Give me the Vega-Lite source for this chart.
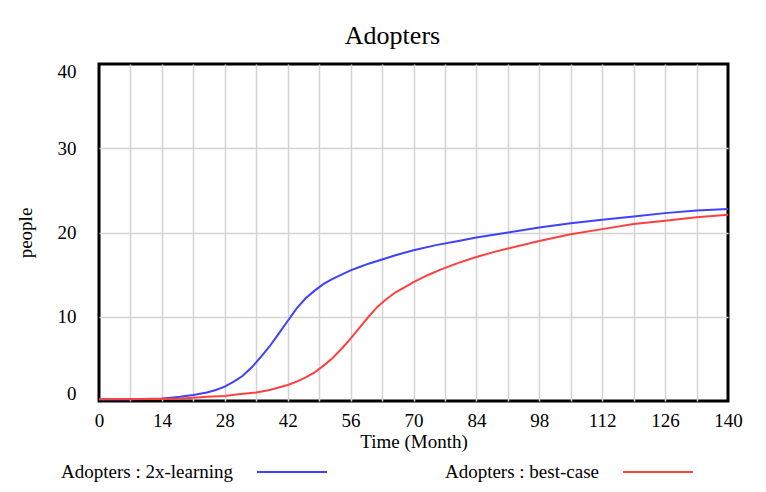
{
  "$schema": "https://vega.github.io/schema/vega-lite/v6.json",
  "width": 629,
  "height": 337,
  "autosize": {"type": "none"},
  "padding": {"left": 99, "top": 64, "right": 38, "bottom": 91},
  "background": "white",
  "title": {"text": "Adopters", "font": "Liberation Serif", "fontSize": 26, "fontWeight": "normal", "color": "black", "offset": 13, "dx": -21, "anchor": "middle"},
  "datasets": {
    "d": [
      {"time": 0, "people": 0.2, "series": "Adopters : 2x-learning"},
      {"time": 7, "people": 0.2, "series": "Adopters : 2x-learning"},
      {"time": 14, "people": 0.3, "series": "Adopters : 2x-learning"},
      {"time": 16, "people": 0.4, "series": "Adopters : 2x-learning"},
      {"time": 18, "people": 0.5, "series": "Adopters : 2x-learning"},
      {"time": 21, "people": 0.7, "series": "Adopters : 2x-learning"},
      {"time": 24, "people": 1.0, "series": "Adopters : 2x-learning"},
      {"time": 26, "people": 1.3, "series": "Adopters : 2x-learning"},
      {"time": 28, "people": 1.7, "series": "Adopters : 2x-learning"},
      {"time": 30, "people": 2.3, "series": "Adopters : 2x-learning"},
      {"time": 32, "people": 3.0, "series": "Adopters : 2x-learning"},
      {"time": 34, "people": 4.0, "series": "Adopters : 2x-learning"},
      {"time": 36, "people": 5.2, "series": "Adopters : 2x-learning"},
      {"time": 38, "people": 6.5, "series": "Adopters : 2x-learning"},
      {"time": 40, "people": 8.0, "series": "Adopters : 2x-learning"},
      {"time": 42, "people": 9.5, "series": "Adopters : 2x-learning"},
      {"time": 44, "people": 11.0, "series": "Adopters : 2x-learning"},
      {"time": 46, "people": 12.2, "series": "Adopters : 2x-learning"},
      {"time": 48, "people": 13.1, "series": "Adopters : 2x-learning"},
      {"time": 50, "people": 13.9, "series": "Adopters : 2x-learning"},
      {"time": 52, "people": 14.5, "series": "Adopters : 2x-learning"},
      {"time": 54, "people": 15.0, "series": "Adopters : 2x-learning"},
      {"time": 56, "people": 15.5, "series": "Adopters : 2x-learning"},
      {"time": 58, "people": 15.9, "series": "Adopters : 2x-learning"},
      {"time": 60, "people": 16.3, "series": "Adopters : 2x-learning"},
      {"time": 63, "people": 16.8, "series": "Adopters : 2x-learning"},
      {"time": 66, "people": 17.3, "series": "Adopters : 2x-learning"},
      {"time": 70, "people": 17.9, "series": "Adopters : 2x-learning"},
      {"time": 75, "people": 18.5, "series": "Adopters : 2x-learning"},
      {"time": 80, "people": 19.0, "series": "Adopters : 2x-learning"},
      {"time": 84, "people": 19.4, "series": "Adopters : 2x-learning"},
      {"time": 90, "people": 19.9, "series": "Adopters : 2x-learning"},
      {"time": 98, "people": 20.6, "series": "Adopters : 2x-learning"},
      {"time": 105, "people": 21.1, "series": "Adopters : 2x-learning"},
      {"time": 112, "people": 21.5, "series": "Adopters : 2x-learning"},
      {"time": 119, "people": 21.9, "series": "Adopters : 2x-learning"},
      {"time": 126, "people": 22.3, "series": "Adopters : 2x-learning"},
      {"time": 133, "people": 22.6, "series": "Adopters : 2x-learning"},
      {"time": 140, "people": 22.8, "series": "Adopters : 2x-learning"},
      {"time": 0, "people": 0.2, "series": "Adopters : best-case"},
      {"time": 14, "people": 0.25, "series": "Adopters : best-case"},
      {"time": 18, "people": 0.3, "series": "Adopters : best-case"},
      {"time": 21, "people": 0.4, "series": "Adopters : best-case"},
      {"time": 24, "people": 0.5, "series": "Adopters : best-case"},
      {"time": 28, "people": 0.6, "series": "Adopters : best-case"},
      {"time": 31, "people": 0.8, "series": "Adopters : best-case"},
      {"time": 35, "people": 1.0, "series": "Adopters : best-case"},
      {"time": 38, "people": 1.3, "series": "Adopters : best-case"},
      {"time": 40, "people": 1.6, "series": "Adopters : best-case"},
      {"time": 42, "people": 1.9, "series": "Adopters : best-case"},
      {"time": 44, "people": 2.3, "series": "Adopters : best-case"},
      {"time": 46, "people": 2.8, "series": "Adopters : best-case"},
      {"time": 48, "people": 3.4, "series": "Adopters : best-case"},
      {"time": 50, "people": 4.2, "series": "Adopters : best-case"},
      {"time": 52, "people": 5.1, "series": "Adopters : best-case"},
      {"time": 54, "people": 6.2, "series": "Adopters : best-case"},
      {"time": 56, "people": 7.4, "series": "Adopters : best-case"},
      {"time": 58, "people": 8.7, "series": "Adopters : best-case"},
      {"time": 60, "people": 10.0, "series": "Adopters : best-case"},
      {"time": 62, "people": 11.2, "series": "Adopters : best-case"},
      {"time": 64, "people": 12.1, "series": "Adopters : best-case"},
      {"time": 66, "people": 12.9, "series": "Adopters : best-case"},
      {"time": 68, "people": 13.5, "series": "Adopters : best-case"},
      {"time": 70, "people": 14.1, "series": "Adopters : best-case"},
      {"time": 73, "people": 14.9, "series": "Adopters : best-case"},
      {"time": 76, "people": 15.6, "series": "Adopters : best-case"},
      {"time": 80, "people": 16.4, "series": "Adopters : best-case"},
      {"time": 84, "people": 17.1, "series": "Adopters : best-case"},
      {"time": 88, "people": 17.7, "series": "Adopters : best-case"},
      {"time": 91, "people": 18.1, "series": "Adopters : best-case"},
      {"time": 98, "people": 19.0, "series": "Adopters : best-case"},
      {"time": 105, "people": 19.8, "series": "Adopters : best-case"},
      {"time": 112, "people": 20.4, "series": "Adopters : best-case"},
      {"time": 119, "people": 21.0, "series": "Adopters : best-case"},
      {"time": 126, "people": 21.4, "series": "Adopters : best-case"},
      {"time": 133, "people": 21.8, "series": "Adopters : best-case"},
      {"time": 140, "people": 22.1, "series": "Adopters : best-case"}
    ]
  },
  "data": {"name": "d"},
  "mark": {"type": "line", "strokeWidth": 2, "interpolate": "linear"},
  "encoding": {
    "x": {
      "field": "time",
      "type": "quantitative",
      "scale": {"domain": [0, 140], "nice": false, "zero": false},
      "axis": {
        "values": [0, 7, 14, 21, 28, 35, 42, 49, 56, 63, 70, 77, 84, 91, 98, 105, 112, 119, 126, 133, 140],
        "labelExpr": "datum.value % 14 === 0 ? datum.label : ''",
        "title": "Time (Month)",
        "grid": true,
        "gridColor": "#d3d3d3",
        "gridWidth": 1.5,
        "gridOpacity": {"condition": {"test": "datum.value === 0 || datum.value === 140", "value": 0}, "value": 1},
        "domain": false,
        "ticks": false,
        "tickSize": 0,
        "labelPadding": 10,
        "labelFlush": false,
        "labelOverlap": false,
        "titlePadding": 2
      }
    },
    "y": {
      "field": "people",
      "type": "quantitative",
      "scale": {"domain": [0, 40], "nice": false},
      "axis": {
        "values": [0, 10, 20, 30, 40],
        "title": "people",
        "grid": true,
        "gridColor": "#d3d3d3",
        "gridWidth": 1.5,
        "gridOpacity": {"condition": {"test": "datum.value === 0 || datum.value === 40", "value": 0}, "value": 1},
        "domain": false,
        "ticks": false,
        "tickSize": 0,
        "labelAlign": "right",
        "labelPadding": 23,
        "labelFlush": true,
        "labelFlushOffset": 2,
        "titlePadding": 22
      }
    },
    "color": {
      "field": "series",
      "type": "nominal",
      "scale": {"domain": ["Adopters : 2x-learning", "Adopters : best-case"], "range": ["#4040ff", "#ff4040"]},
      "legend": {
        "title": null,
        "orient": "none",
        "direction": "horizontal",
        "columns": 2,
        "legendX": 157,
        "legendY": 372,
        "symbolType": "stroke",
        "symbolSize": 4900,
        "symbolStrokeWidth": 2,
        "labelAlign": "right",
        "labelOffset": -95,
        "columnPadding": 113,
        "labelFont": "Liberation Serif",
        "labelFontSize": 19,
        "labelColor": "black",
        "labelLimit": 400
      }
    }
  },
  "config": {
    "view": {"stroke": "black", "strokeWidth": 3},
    "axis": {
      "labelFont": "Liberation Serif",
      "labelFontSize": 19,
      "labelColor": "black",
      "titleFont": "Liberation Serif",
      "titleFontSize": 19,
      "titleFontWeight": "normal",
      "titleColor": "black"
    }
  }
}
